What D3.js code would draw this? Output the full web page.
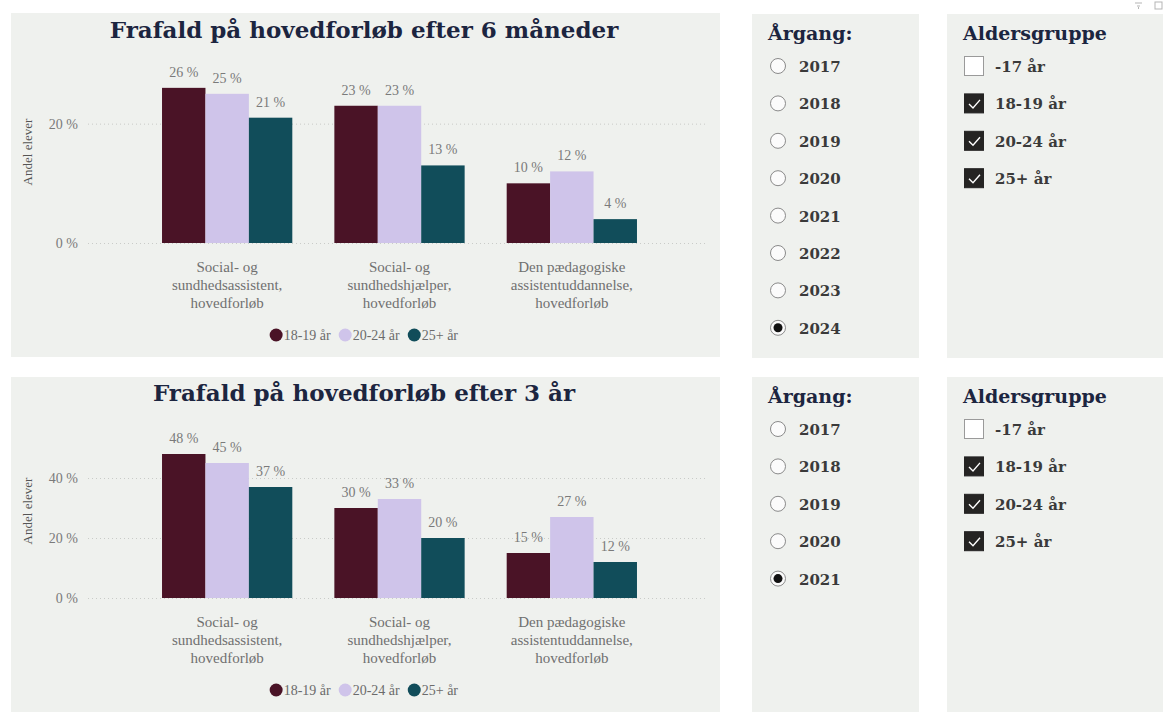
<!DOCTYPE html>
<html>
<head>
<meta charset="utf-8">
<script src="https://cdn.jsdelivr.net/npm/d3@7"></script>
<style>
  body { margin: 0; background: #ffffff; }
  svg { display: block; }
</style>
</head>
<body>
<script>
// data
categories = [
  ["Social- og", "sundhedsassistent,", "hovedforløb"],
  ["Social- og", "sundhedshjælper,", "hovedforløb"],
  ["Den pædagogiske", "assistentuddannelse,", "hovedforløb"]
]
seriesNames = ["18-19 år", "20-24 år", "25+ år"]
seriesColors = ["#4a1326", "#cfc4ea", "#114d5a"]

sixMonths_1819 = [26, 23, 10]
sixMonths_2024 = [25, 23, 12]
sixMonths_25 = [21, 13, 4]

threeYears_1819 = [48, 30, 15]
threeYears_2024 = [45, 33, 27]
threeYears_25 = [37, 20, 12]

ticksTop = [0, 20]
ticksBottom = [0, 20, 40]

yearsTop = ["2017", "2018", "2019", "2020", "2021", "2022", "2023", "2024"]
yearsBottom = ["2017", "2018", "2019", "2020", "2021"]
ageGroups = ["-17 år", "18-19 år", "20-24 år", "25+ år"]
ageChecked = [false, true, true, true]

var serif = "'DejaVu Serif', Georgia, serif"
var lightSerif = "'Liberation Serif', 'Times New Roman', serif"
var panelBg = "#eff1ee"

svg = d3.select("body").append("svg").attr("width", 1166).attr("height", 720)

// small header icons top right
icons = svg.append("g").attr("stroke", "#b5b5b5").attr("fill", "none").attr("stroke-width", 1)
icons.append("line").attr("x1", 1135).attr("x2", 1142).attr("y1", 3).attr("y2", 3)
icons.append("line").attr("x1", 1137).attr("x2", 1140).attr("y1", 6).attr("y2", 6)
icons.append("line").attr("x1", 1138.5).attr("x2", 1138.5).attr("y1", 7).attr("y2", 9)
icons.append("rect").attr("x", 1155).attr("y", 2).attr("width", 7).attr("height", 7)

function drawChart(opts) {
  var p = opts.panel
  var g = svg.append("g")
  g.append("rect").attr("x", p.x).attr("y", p.y).attr("width", p.w).attr("height", p.h).attr("fill", panelBg)

  g.append("text").attr("x", 364).attr("y", opts.titleY)
    .attr("text-anchor", "middle")
    .style("font-family", serif).style("font-weight", "bold").style("font-size", "23px")
    .attr("fill", "#1c2540")
    .text(opts.title)

  var y = d3.scaleLinear().domain([0, opts.yMax]).range([opts.zeroY, opts.topY])
  var x0 = d3.scaleBand().domain(d3.range(categories.length)).range([141, 658])
    .paddingInner(0.244).paddingOuter(0.122)
  var x1 = d3.scaleBand().domain(d3.range(seriesNames.length)).range([0, x0.bandwidth()])

  // y axis via d3 axis, restyled
  var axis = g.append("g").attr("transform", "translate(80,0)")
    .call(d3.axisLeft(y).tickValues(opts.ticks).tickFormat(d => d + " %").tickSize(0).tickPadding(2))
  axis.select(".domain").remove()
  axis.selectAll("text").style("font-family", lightSerif).style("font-size", "14px").attr("fill", "#7a7a7a")

  g.selectAll(".grid").data(opts.ticks).enter().append("line")
    .attr("x1", 88).attr("x2", 706)
    .attr("y1", d => y(d) + 0.5).attr("y2", d => y(d) + 0.5)
    .attr("stroke", "#c9cbc8").attr("stroke-dasharray", "1,3")

  g.append("text")
    .attr("transform", "translate(32," + ((opts.zeroY + opts.topY) / 2) + ") rotate(-90)")
    .attr("text-anchor", "middle")
    .style("font-family", lightSerif).style("font-size", "13px").attr("fill", "#555")
    .text("Andel elever")

  var rows = []
  opts.values.forEach(function(vals, s) {
    vals.forEach(function(v, c) { rows.push({ s: s, c: c, v: v }) })
  })

  g.selectAll(".bar").data(rows).enter().append("rect")
    .attr("x", d => x0(d.c) + x1(d.s))
    .attr("width", x1.bandwidth())
    .attr("y", d => y(d.v))
    .attr("height", d => y(0) - y(d.v))
    .attr("fill", d => seriesColors[d.s])

  g.selectAll(".lbl").data(rows).enter().append("text")
    .attr("x", d => x0(d.c) + x1(d.s) + x1.bandwidth() / 2)
    .attr("y", d => y(d.v) - 11)
    .attr("text-anchor", "middle")
    .style("font-family", lightSerif).style("font-size", "14px").attr("fill", "#7a7a7a")
    .text(d => d.v + " %")

  categories.forEach(function(lines, c) {
    var t = g.append("text").attr("text-anchor", "middle")
      .style("font-family", lightSerif).style("font-size", "15px").attr("fill", "#707070")
    lines.forEach(function(line, i) {
      t.append("tspan").attr("x", x0(c) + x0.bandwidth() / 2).attr("y", opts.zeroY + 29 + i * 18).text(line)
    })
  })

  // legend
  var ly = opts.zeroY + 92
  var leg = g.append("g")
  var lx = 255
  seriesNames.forEach(function(name, i) {
    leg.append("circle").attr("cx", lx + 6.5).attr("cy", ly).attr("r", 6.5).attr("fill", seriesColors[i])
    var t = leg.append("text").attr("x", lx + 14).attr("y", ly + 5)
      .style("font-family", lightSerif).style("font-size", "14px").attr("fill", "#6b6b6b")
      .text(name)
    lx = lx + 14 + t.node().getComputedTextLength() + 8
  })
  var bb = leg.node().getBBox()
  leg.attr("transform", "translate(" + (364 - (bb.x + bb.width / 2)) + ",0)")
}

function drawYearSlicer(p, years, selected) {
  var g = svg.append("g")
  g.append("rect").attr("x", p.x).attr("y", p.y).attr("width", p.w).attr("height", p.h).attr("fill", panelBg)
  g.append("text").attr("x", p.x + 16).attr("y", p.y + 26)
    .style("font-family", serif).style("font-weight", "bold").style("font-size", "19px").attr("fill", "#1c2540")
    .text("Årgang:")
  years.forEach(function(yr, i) {
    var cy = p.y + 52 + i * 37.4
    g.append("circle").attr("cx", p.x + 26).attr("cy", cy).attr("r", 7.5)
      .attr("fill", "#fbfbfb").attr("stroke", "#8a8a8a").attr("stroke-width", 1)
    if (yr == selected) {
      g.append("circle").attr("cx", p.x + 26).attr("cy", cy).attr("r", 4.5).attr("fill", "#111")
    }
    g.append("text").attr("x", p.x + 47).attr("y", cy + 6)
      .style("font-family", serif).style("font-weight", "bold").style("font-size", "15px").attr("fill", "#3a3a3a")
      .text(yr)
  })
}

function drawAgeSlicer(p) {
  var g = svg.append("g")
  g.append("rect").attr("x", p.x).attr("y", p.y).attr("width", p.w).attr("height", p.h).attr("fill", panelBg)
  g.append("text").attr("x", p.x + 16).attr("y", p.y + 26)
    .style("font-family", serif).style("font-weight", "bold").style("font-size", "19px").attr("fill", "#1c2540")
    .text("Aldersgruppe")
  ageGroups.forEach(function(a, i) {
    var cy = p.y + 52 + i * 37.4
    g.append("rect").attr("x", p.x + 17.5).attr("y", cy - 9.5).attr("width", 19).attr("height", 19)
      .attr("fill", ageChecked[i] ? "#252423" : "#ffffff")
      .attr("stroke", ageChecked[i] ? "#252423" : "#9a9a9a")
    if (ageChecked[i]) {
      g.append("path")
        .attr("d", "M" + (p.x + 22) + "," + (cy + 0.5) + " l4,4 l7,-8")
        .attr("fill", "none").attr("stroke", "#ffffff").attr("stroke-width", 1.4)
    }
    g.append("text").attr("x", p.x + 48).attr("y", cy + 6)
      .style("font-family", serif).style("font-weight", "bold").style("font-size", "15px").attr("fill", "#3a3a3a")
      .text(a)
  })
}

drawChart({
  panel: { x: 11, y: 13, w: 709, h: 344 },
  title: "Frafald på hovedforløb efter 6 måneder",
  titleY: 38,
  values: [sixMonths_1819, sixMonths_2024, sixMonths_25],
  ticks: ticksTop,
  yMax: 30.5, zeroY: 243, topY: 61
})
drawChart({
  panel: { x: 11, y: 377, w: 709, h: 335 },
  title: "Frafald på hovedforløb efter 3 år",
  titleY: 401,
  values: [threeYears_1819, threeYears_2024, threeYears_25],
  ticks: ticksBottom,
  yMax: 58, zeroY: 598, topY: 424
})

drawYearSlicer({ x: 752, y: 14, w: 167, h: 344 }, yearsTop, "2024")
drawAgeSlicer({ x: 947, y: 14, w: 216, h: 344 })
drawYearSlicer({ x: 752, y: 377, w: 167, h: 335 }, yearsBottom, "2021")
drawAgeSlicer({ x: 947, y: 377, w: 216, h: 335 })
</script>
</body>
</html>
